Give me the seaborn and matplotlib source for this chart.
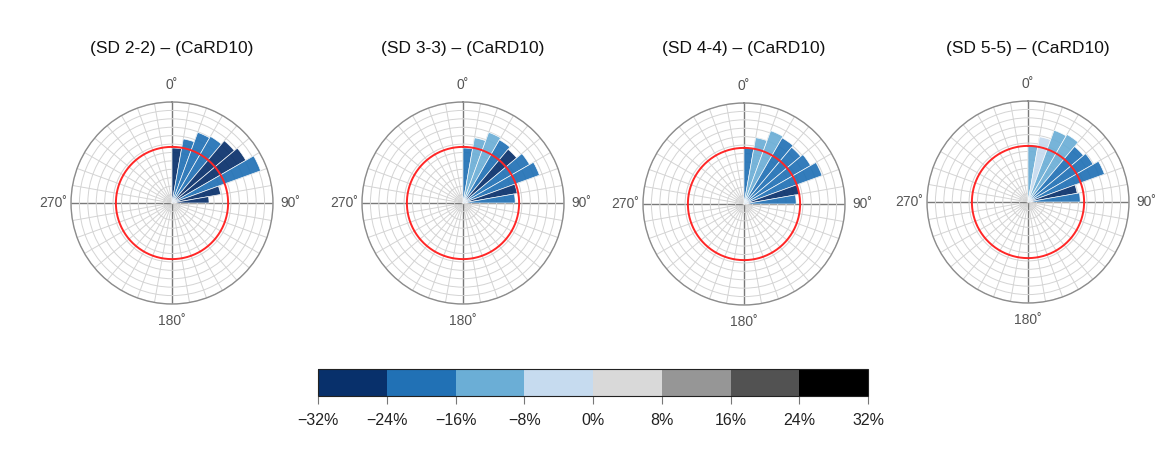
import numpy as np
import matplotlib
matplotlib.use("Agg")
import matplotlib.pyplot as plt
from matplotlib.colors import ListedColormap, BoundaryNorm
from matplotlib.cm import ScalarMappable
import seaborn as sns

sns.set_style("white")
plt.rcParams["font.family"] = ["Liberation Sans", "DejaVu Sans"]

# ---- data -------------------------------------------------------------
panel_titles = [
    "(SD 2-2) \u2013 (CaRD10)",
    "(SD 3-3) \u2013 (CaRD10)",
    "(SD 4-4) \u2013 (CaRD10)",
    "(SD 5-5) \u2013 (CaRD10)",
]

# direction bins (degrees, clockwise from north), 10-degree sectors
sector_centers = [5, 15, 25, 35, 45, 55, 65, 75, 85]

# relative magnitude per sector (reference level = 1.0)
radius_sd2 = [0.98, 1.16, 1.34, 1.37, 1.45, 1.52, 1.68, 0.88, 0.66]
radius_sd3 = [0.98, 1.18, 1.34, 1.30, 1.25, 1.37, 1.45, 0.98, 0.93]
radius_sd4 = [1.00, 1.20, 1.39, 1.36, 1.32, 1.37, 1.48, 1.00, 0.93]
radius_sd5 = [1.02, 1.18, 1.36, 1.39, 1.29, 1.34, 1.45, 0.89, 0.93]

# percentage change per sector
change_sd2 = [-28, -20, -20, -20, -28, -28, -20, -28, -28]
change_sd3 = [-20, -12, -12, -20, -28, -20, -20, -28, -20]
change_sd4 = [-20, -12, -12, -20, -20, -20, -20, -28, -20]
change_sd5 = [-12, -4, -12, -12, -20, -20, -20, -28, -20]

radii = [radius_sd2, radius_sd3, radius_sd4, radius_sd5]
changes = [change_sd2, change_sd3, change_sd4, change_sd5]

reference_level = 1.0
r_max = 1.8

cbar_bounds = [-32, -24, -16, -8, 0, 8, 16, 24, 32]
cbar_labels = ["\u221232%", "\u221224%", "\u221216%", "\u22128%", "0%",
               "8%", "16%", "24%", "32%"]

# ---- colours ----------------------------------------------------------
palette = ["#08306b", "#2171b5", "#6baed6", "#c6dbef",
           "#d9d9d9", "#969696", "#525252", "#000000"]
cmap = ListedColormap(palette)
norm = BoundaryNorm(cbar_bounds, cmap.N)

# ---- figure -----------------------------------------------------------
W, H = 1168, 462
fig = plt.figure(figsize=(W / 100, H / 100), dpi=100)
fig.patch.set_facecolor("white")

centers_px = [(172, 203), (463, 203), (744, 204), (1028, 202)]
R_px = 101

tick_deg = np.arange(0, 360, 10)
tick_text = {0: "0\u02da", 90: "90\u02da", 180: "180\u02da", 270: "270\u02da"}

for (cx, cy), title, rad, chg in zip(centers_px, panel_titles, radii, changes):
    ax = fig.add_axes([(cx - R_px) / W, (H - cy - R_px) / H,
                       2 * R_px / W, 2 * R_px / H], projection="polar")
    ax.set_theta_zero_location("N")
    ax.set_theta_direction(-1)
    ax.set_ylim(0, r_max)
    ax.set_axisbelow(True)

    ax.bar(np.deg2rad(sector_centers), rad, width=np.deg2rad(10),
           color=cmap(norm(np.array(chg))), alpha=0.92,
           edgecolor=(1, 1, 1, 0.25), linewidth=0.5, zorder=2)

    th = np.linspace(0, 2 * np.pi, 361)
    ax.plot(th, np.full_like(th, reference_level), color="#ff2626",
            lw=1.4, zorder=4)

    ax.set_xticks(np.deg2rad(tick_deg))
    ax.set_xticklabels([tick_text.get(int(d), "") for d in tick_deg],
                       fontsize=10, color="#555555")
    ax.tick_params(axis="x", pad=2)
    ax.set_yticks(np.arange(0.15, r_max, 0.15))
    ax.set_yticklabels([])
    ax.grid(True, color="#d4d4d4", lw=0.7)
    for d, tk in zip(tick_deg, ax.xaxis.get_major_ticks()):
        if d % 90 == 0:
            tk.gridline.set_color("#7a7a7a")
            tk.gridline.set_linewidth(1.0)
            tk.gridline.set_zorder(3)
    ax.spines["polar"].set_color("#8c8c8c")
    ax.spines["polar"].set_linewidth(1.0)

    fig.text(cx / W, 1 - 48 / H, title, ha="center", va="center",
             fontsize=12.5, color="#111111")

# ---- colour bar -------------------------------------------------------
cax = fig.add_axes([318 / W, (H - 396) / H, 550 / W, 27 / H])
cb = fig.colorbar(ScalarMappable(norm=norm, cmap=cmap), cax=cax,
                  orientation="horizontal", ticks=cbar_bounds)
cb.ax.set_xticklabels(cbar_labels)
cb.ax.tick_params(length=6, width=0.8, color="#777777", labelsize=11.5,
                  labelcolor="#222222", pad=6)
cb.outline.set_linewidth(0.8)
cb.outline.set_edgecolor("#222222")

fig.savefig("out.png", dpi=100, facecolor="white")
